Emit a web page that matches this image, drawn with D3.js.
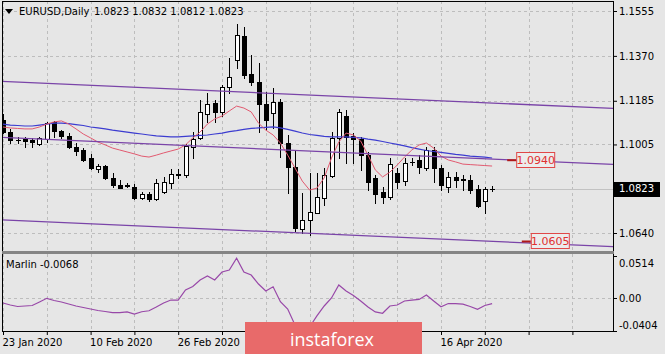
<!DOCTYPE html>
<html><head><meta charset="utf-8">
<script src="https://cdn.jsdelivr.net/npm/d3@7/dist/d3.min.js"></script>
<style>
html,body{margin:0;padding:0;background:#e6e6e6;}
svg{display:block;}
text{font-family:"DejaVu Sans",Verdana,sans-serif;font-size:10px;fill:#000;}
</style></head><body>
<svg id="c" width="665" height="354"></svg>
<script>
// ---------- data ----------
const dates = ["2020-01-23","2020-01-24","2020-01-27","2020-01-28","2020-01-29","2020-01-30","2020-01-31",
"2020-02-03","2020-02-04","2020-02-05","2020-02-06","2020-02-07","2020-02-10","2020-02-11","2020-02-12","2020-02-13","2020-02-14",
"2020-02-17","2020-02-18","2020-02-19","2020-02-20","2020-02-21","2020-02-24","2020-02-25","2020-02-26","2020-02-27","2020-02-28",
"2020-03-02","2020-03-03","2020-03-04","2020-03-05","2020-03-06","2020-03-09","2020-03-10","2020-03-11","2020-03-12","2020-03-13",
"2020-03-16","2020-03-17","2020-03-18","2020-03-19","2020-03-20","2020-03-23","2020-03-24","2020-03-25","2020-03-26","2020-03-27",
"2020-03-30","2020-03-31","2020-04-01","2020-04-02","2020-04-03","2020-04-06","2020-04-07","2020-04-08","2020-04-09","2020-04-10",
"2020-04-13","2020-04-14","2020-04-15","2020-04-16","2020-04-17","2020-04-20","2020-04-21","2020-04-22","2020-04-23","2020-04-24","2020-04-27"];

const open  = [1.1106,1.1056,1.1024,1.1028,1.1024,1.1007,1.1028,1.1098,1.1061,1.1040,1.0995,1.0982,1.0950,1.0904,1.0916,1.0867,1.0838,
1.0834,1.0830,1.0785,1.0801,1.0780,1.0809,1.0846,1.0880,1.0879,1.0995,1.1032,1.1131,1.1176,1.1139,1.1242,1.1353,1.1452,1.1295,1.1262,1.1172,
1.1135,1.1180,1.1011,1.0912,1.0657,1.0694,1.0723,1.0785,1.0875,1.1032,1.1122,1.1040,1.1028,1.0962,1.0867,1.0809,1.0789,1.0888,1.0855,1.0932,
1.0941,1.0908,1.0982,1.0908,1.0830,1.0871,1.0862,1.0859,1.0822,1.0772,1.0823];
const high  = [1.1131,1.1069,1.1037,1.1036,1.1032,1.1037,1.1099,1.1102,1.1065,1.1054,1.1011,1.0991,1.0966,1.0925,1.0921,1.0888,1.0859,
1.0846,1.0841,1.0808,1.0811,1.0863,1.0872,1.0904,1.0904,1.1006,1.1056,1.1188,1.1217,1.1188,1.1250,1.1361,1.1501,1.1490,1.1372,1.1341,1.1221,
1.1238,1.1192,1.1044,1.0978,1.0805,1.0888,1.0888,1.0908,1.1056,1.1151,1.1147,1.1054,1.1037,1.0975,1.0879,1.0831,1.0948,1.0907,1.0948,1.0948,
1.0962,1.0996,1.0993,1.0921,1.0893,1.0893,1.0879,1.0879,1.0838,1.0829,1.0832];
const low   = [1.1051,1.1011,1.1012,1.0995,1.0995,1.1003,1.1017,1.1037,1.1033,1.0992,1.0962,1.0937,1.0904,1.0893,1.0863,1.0831,1.0825,
1.0828,1.0780,1.0780,1.0772,1.0778,1.0804,1.0826,1.0868,1.0872,1.0949,1.1028,1.1098,1.1098,1.1124,1.1217,1.1320,1.1279,1.1250,1.1056,1.1065,
1.1073,1.0953,1.0805,1.0649,1.0640,1.0632,1.0721,1.0756,1.0870,1.0949,1.0929,1.0929,1.0900,1.0818,1.0765,1.0765,1.0779,1.0825,1.0838,1.0921,
1.0886,1.0900,1.0852,1.0818,1.0811,1.0831,1.0818,1.0804,1.0749,1.0724,1.0812];
const close = [1.1056,1.1024,1.1022,1.1019,1.1015,1.1032,1.1094,1.1061,1.1040,1.0995,1.0978,1.0941,1.0908,1.0916,1.0867,1.0838,1.0826,
1.0836,1.0785,1.0801,1.0780,1.0846,1.0850,1.0883,1.0882,1.0999,1.1028,1.1139,1.1172,1.1139,1.1242,1.1283,1.1456,1.1291,1.1262,1.1172,1.1106,
1.1180,1.1011,1.0912,1.0661,1.0694,1.0727,1.0789,1.0879,1.1032,1.1139,1.1036,1.1028,1.0962,1.0851,1.0801,1.0789,1.0925,1.0851,1.0929,1.0934,
1.0912,1.0982,1.0908,1.0838,1.0871,1.0859,1.0860,1.0818,1.0752,1.0822,1.0823];

const maRed = [1.1077,1.1073,1.1071,1.1069,1.1069,1.1077,1.1089,1.1098,1.1102,1.1089,1.1069,1.1048,1.1032,1.1015,1.1003,1.0990,1.0982,
1.0974,1.0966,1.0957,1.0953,1.0961,1.0970,1.0978,1.0986,1.1003,1.1032,1.1056,1.1089,1.1110,1.1122,1.1143,1.1163,1.1155,1.1139,1.1093,1.1064,
1.1044,1.1011,1.0961,1.0908,1.0854,1.0817,1.0825,1.0867,1.0949,1.1015,1.1052,1.1044,1.1019,1.0961,1.0900,1.0871,1.0891,1.0920,1.0953,1.0982,
1.1003,1.1011,1.0990,1.0957,1.0941,1.0933,1.0924,1.0922,1.0920,1.0918,1.0916];
const maBlue = [1.1089,1.1085,1.1083,1.1081,1.1081,1.1085,1.1089,1.1093,1.1093,1.1091,1.1087,1.1083,1.1077,1.1073,1.1069,1.1064,1.1060,
1.1056,1.1052,1.1048,1.1044,1.1040,1.1038,1.1036,1.1036,1.1038,1.1040,1.1042,1.1044,1.1048,1.1052,1.1058,1.1062,1.1067,1.1071,1.1073,1.1075,
1.1077,1.1073,1.1067,1.1060,1.1052,1.1046,1.1042,1.1038,1.1036,1.1036,1.1036,1.1034,1.1032,1.1027,1.1023,1.1017,1.1011,1.1005,1.0999,1.0992,
1.0986,1.0980,1.0976,1.0972,1.0968,1.0964,1.0961,1.0957,1.0955,1.0953,1.0949];

const marlin = [-0.0061,-0.0086,-0.0104,-0.0098,-0.0092,-0.0049,-0.0004,-0.0031,-0.0049,-0.0074,-0.0098,-0.0116,-0.0135,-0.0153,-0.0165,-0.0178,-0.0180,
-0.0169,-0.0196,-0.0168,-0.0156,-0.0110,-0.0061,-0.0025,-0.0025,0.0098,0.0141,0.0220,0.0269,0.0220,0.0318,0.0343,0.0486,0.0318,0.0281,0.0171,0.0086,
0.0138,-0.0045,-0.0135,-0.0331,-0.0453,-0.0355,-0.0220,-0.0098,0.0000,0.0159,0.0086,0.0031,-0.0037,-0.0110,-0.0171,-0.0187,-0.0098,-0.0086,-0.0037,-0.0025,
-0.0018,0.0037,-0.0037,-0.0107,-0.0068,-0.0070,-0.0076,-0.0104,-0.0138,-0.0092,-0.0068];

// channel lines: [barIndex, price] end points
const chanUpper = [[-1, 1.1266],[84, 1.1153]];
const chanMid   = [[-1, 1.1035],[84, 1.0922]];
const chanLower = [[-1, 1.0695],[84, 1.0583]];

const levelPrices = [1.0940, 1.0605];
const levelBars   = [70.3, 72.3];

const priceTicks = [1.1555, 1.1370, 1.1185, 1.1005, 1.0820, 1.0640];
const marlinTicks = [0.0514, 0.00, -0.0404];
const marlinTickLabels = ["0.0514", "0.00", "-0.0404"];
const dateTickIdx = [0, 12, 24, 60];
const dateTickLabels = ["23 Jan 2020", "10 Feb 2020", "26 Feb 2020", "16 Apr 2020"];
const title = "EURUSD,Daily";
const ohlcText = "1.0823 1.0832 1.0812 1.0823";
const marlinName = "Marlin";
const lastMarlin = -0.0068;
const lastPrice = 1.0823;

// ---------- layout ----------
const L = 2, R = 613, mainT = 1, mainB = 251, subT = 254, subB = 331;
const svg = d3.select("#c");
const x = d3.scaleLinear().domain([0, 67]).range([3, 3 + 67 * 7.3]);
const y = d3.scaleLinear().domain([1.0640, 1.1555]).range([233, 11]);
const ym = d3.scaleLinear().domain([-0.0404, 0.0514]).range([331, 256]);
const fmt4 = v => v.toFixed(4);

const defs = svg.append("defs");
defs.append("clipPath").attr("id", "cm").append("rect").attr("x", L).attr("y", mainT).attr("width", R - L).attr("height", mainB - mainT);
defs.append("clipPath").attr("id", "cs").append("rect").attr("x", L).attr("y", subT).attr("width", R - L).attr("height", subB - subT);

svg.append("rect").attr("width", 665).attr("height", 354).attr("fill", "#e6e6e6");

// grid
const gridIdx = d3.range(0, 80, 6);
const grid = svg.append("g").attr("stroke", "#bdbdbd").attr("stroke-dasharray", "3,3").attr("stroke-width", 1);
gridIdx.forEach(i => {
  const gx = Math.round(x(i)) + 0.5;
  grid.append("line").attr("x1", gx).attr("x2", gx).attr("y1", mainT).attr("y2", mainB);
  grid.append("line").attr("x1", gx).attr("x2", gx).attr("y1", subT).attr("y2", subB);
});
priceTicks.forEach(p => {
  const gy = Math.round(y(p)) + 0.5;
  grid.append("line").attr("x1", L).attr("x2", R).attr("y1", gy).attr("y2", gy);
});
grid.append("line").attr("x1", L).attr("x2", R).attr("y1", Math.round(ym(0)) + 0.5).attr("y2", Math.round(ym(0)) + 0.5);

// main panel content
const gm = svg.append("g").attr("clip-path", "url(#cm)");
gm.append("line").attr("x1", L).attr("x2", R).attr("y1", Math.round(y(lastPrice)) + 0.5).attr("y2", Math.round(y(lastPrice)) + 0.5)
  .attr("stroke", "#c2c2c2").attr("stroke-width", 1);

// candles
const cg = gm.append("g");
dates.forEach((d, i) => {
  const cx = Math.round(x(i));
  cg.append("line").attr("x1", cx + 0.5).attr("x2", cx + 0.5)
    .attr("y1", Math.round(y(high[i]))).attr("y2", Math.round(y(low[i])) + 1)
    .attr("stroke", "#000").attr("stroke-width", 1);
  const top = Math.round(y(Math.max(open[i], close[i])));
  const bot = Math.round(y(Math.min(open[i], close[i])));
  if (bot - top < 1) {
    cg.append("line").attr("x1", cx - 2).attr("x2", cx + 3).attr("y1", top + 0.5).attr("y2", top + 0.5).attr("stroke", "#000");
  } else {
    cg.append("rect").attr("x", cx - 1.5).attr("y", top + 0.5).attr("width", 4).attr("height", bot - top)
      .attr("fill", close[i] >= open[i] ? "#fff" : "#000").attr("stroke", "#000").attr("stroke-width", 1);
  }
});

// moving averages
const line = d3.line().x((d, i) => x(i)).y(d => y(d));
gm.append("path").datum(maBlue).attr("d", line).attr("fill", "none").attr("stroke", "#3c3cd0").attr("stroke-width", 1.2);
gm.append("path").datum(maRed).attr("d", line).attr("fill", "none").attr("stroke", "#e25a70").attr("stroke-width", 1);

// channel lines
const cl = d3.line().x(d => x(d[0])).y(d => y(d[1]));
[chanUpper, chanMid, chanLower].forEach(c => {
  gm.append("path").datum(c).attr("d", cl).attr("fill", "none").attr("stroke", "#7a44a8").attr("stroke-width", 1.3);
});

// level labels
levelPrices.forEach((p, k) => {
  const lx = x(levelBars[k]);
  const ly = y(p);
  gm.append("line").attr("x1", lx - 9).attr("x2", lx).attr("y1", ly).attr("y2", ly).attr("stroke", "#b01818").attr("stroke-width", 2);
  gm.append("rect").attr("x", lx + 0.5).attr("y", Math.round(ly) - 7.5).attr("width", 38).attr("height", 15)
    .attr("fill", "#ececec").attr("stroke", "#e04848").attr("stroke-width", 1);
  gm.append("text").attr("x", lx + 19.5).attr("y", ly).attr("dy", "0.36em").attr("text-anchor", "middle")
    .style("fill", "#e03030").style("font-size", "11px").text(fmt4(p));
});

// sub panel
const gs = svg.append("g").attr("clip-path", "url(#cs)");
gs.append("path").datum(marlin).attr("d", d3.line().x((d, i) => x(i)).y(d => ym(d)))
  .attr("fill", "none").attr("stroke", "#9848a8").attr("stroke-width", 1.2);

// frames
svg.append("rect").attr("x", L + 0.5).attr("y", mainT + 0.5).attr("width", R - L).attr("height", subB - mainT)
  .attr("fill", "none").attr("stroke", "#000");
svg.append("rect").attr("x", L).attr("y", mainB).attr("width", R - L + 1).attr("height", subT - mainB).attr("fill", "#858585");

// right axis (price)
const ax = svg.append("g").attr("transform", `translate(${R},0)`)
  .call(d3.axisRight(y).tickValues(priceTicks).tickSize(4).tickPadding(2).tickFormat(fmt4));
ax.select(".domain").remove();
ax.selectAll("text").style("font-size", "10px").attr("fill", "#000");
ax.selectAll("line").attr("stroke", "#000");

// current price box
svg.append("rect").attr("x", 614).attr("y", Math.round(y(lastPrice)) - 7).attr("width", 46).attr("height", 15).attr("fill", "#000");
svg.append("text").attr("x", 619).attr("y", y(lastPrice)).attr("dy", "0.36em").style("fill", "#fff").text(fmt4(lastPrice));

// marlin axis
const am = svg.append("g").attr("transform", `translate(${R},0)`)
  .call(d3.axisRight(ym).tickValues(marlinTicks).tickSize(4).tickPadding(2).tickFormat((d, i) => marlinTickLabels[i]));
am.select(".domain").remove();
am.selectAll("line").attr("stroke", "#000");
am.selectAll("text").attr("fill", "#000").attr("dy", (d, i) => i === 0 ? "1.0em" : (i === 2 ? "-0.3em" : "0.32em"));

// bottom axis
const ab = svg.append("g").attr("transform", `translate(0,${subB})`)
  .call(d3.axisBottom(x).tickValues(gridIdx).tickSize(4).tickFormat(i => {
    const k = dateTickIdx.indexOf(i); return k >= 0 ? dateTickLabels[k] : "";
  }));
ab.select(".domain").remove();
ab.selectAll("line").attr("stroke", "#000");
ab.selectAll("text").attr("fill", "#000").attr("text-anchor", "start").attr("dy", "0.9em").attr("y", 6).attr("dx", "-1");

// title
svg.append("path").attr("d", "M5,9 L13,9 L9,14 Z").attr("fill", "#000");
svg.append("text").attr("x", 19).attr("y", 15).text(title);
svg.append("text").attr("x", 94).attr("y", 15).text(ohlcText);
svg.append("text").attr("x", 6).attr("y", 268).text(marlinName + " " + fmt4(lastMarlin));

// watermark
svg.append("rect").attr("x", 245).attr("y", 322).attr("width", 177).attr("height", 34).attr("fill", "#e86a6a");
svg.append("text").attr("x", 332).attr("y", 346).attr("text-anchor", "middle")
  .style("font-family", "'Open Sans',sans-serif").style("font-size", "19px").style("fill", "#fff")
  .attr("textLength", 84).attr("lengthAdjust", "spacingAndGlyphs").text("instaforex");
</script>
</body></html>
